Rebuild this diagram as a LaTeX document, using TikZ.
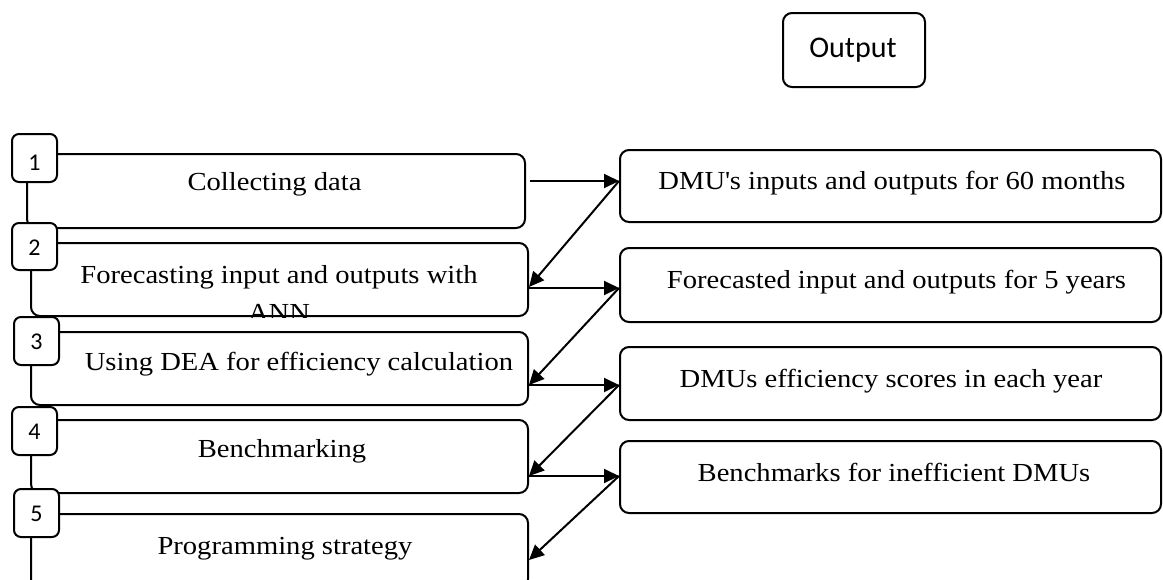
\documentclass[tikz,border=0pt]{standalone}
\usepackage{fontspec}
\usetikzlibrary{arrows.meta}
\newfontfamily\garafont{Liberation Serif}[FakeStretch=1.1]
\newfontfamily\califont{Carlito}
\begin{document}
\begin{tikzpicture}[x=1pt,y=-1pt,
  stage/.style={draw, line width=2pt, rounded corners=9pt, fill=white, inner sep=0pt},
  numbox/.style={draw, line width=2pt, rounded corners=7pt, fill=white,
    minimum width=45pt, minimum height=48pt, inner sep=0pt, text depth=0pt, text height=17pt,
    font=\califont\fontsize{24}{26}\selectfont},
  txt/.style={font=\garafont\fontsize{26}{30}\selectfont, anchor=base, inner sep=0pt},
  outtxt/.style={font=\califont\fontsize{30}{32}\selectfont, anchor=base, inner sep=0pt},
  arr/.style={line width=2pt, -{Triangle[length=15pt,width=14pt]}}]
\useasboundingbox (0,0) rectangle (1163,579);
\clip (0,0) rectangle (1163,579);

% output legend box
\node[stage, minimum width=142pt, minimum height=74pt] (out) at (854,50) {};
\node[outtxt] (outlbl) at (853,57) {Output};

% process stages (left column)
\node[stage, minimum width=498pt, minimum height=74pt] (b1) at (276,191) {};
\node[stage, minimum width=497pt, minimum height=73pt] (b2) at (279.5,279.5) {};
\node[stage, minimum width=497pt, minimum height=73pt] (b3) at (279.5,368.5) {};
\node[stage, minimum width=497pt, minimum height=73pt] (b4) at (279.5,456.5) {};
\node[stage, minimum width=497pt, minimum height=74pt] (b5) at (279.5,551) {};

\node[txt] (t1) at (274.5,190) {Collecting data};
\node[txt] (t2) at (279,283) {Forecasting input and outputs with};
\begin{scope}
  \clip[rounded corners=9pt] (b2.south west) rectangle (b2.north east);
  \node[txt] (t2b) at (279,321) {ANN};
\end{scope}
\node[txt] (t3) at (299,370) {Using DEA for efficiency calculation};
\node[txt] (t4) at (282,457) {Benchmarking};
\node[txt] (t5) at (285,554) {Programming strategy};

% step numbers
\node[numbox, text height=24pt] (n1) at (34.5,158) {1};
\node[numbox, minimum height=47pt] (n2) at (34.5,246.5) {2};
\node[numbox] (n3) at (36.5,341) {3};
\node[numbox] (n4) at (34.5,431) {4};
\node[numbox] (n5) at (36.5,513) {5};

% results (right column)
\node[stage, minimum width=541pt, minimum height=72pt] (oA) at (890.5,186) {};
\node[stage, minimum width=541pt, minimum height=74pt] (oB) at (890.5,285) {};
\node[stage, minimum width=541pt, minimum height=73pt] (oC) at (890.5,383.5) {};
\node[stage, minimum width=541pt, minimum height=72pt] (oD) at (890.5,477) {};

\node[txt] (tA) at (892,189) {DMU\textquotesingle s inputs and outputs for 60 months};
\node[txt] (tB) at (896.5,288) {Forecasted input and outputs for 5 years};
\node[txt] (tC) at (891,387) {DMUs efficiency scores in each year};
\node[txt] (tD) at (894,481) {Benchmarks for inefficient DMUs};

% flow between stages and results
\draw[arr] ([xshift=4pt,yshift=10pt]b1.east) -- ([yshift=10pt]b1.east -| oA.west);
\draw[arr] ([yshift=5pt]oA.west) -- ([yshift=-7.5pt]b2.east);
\draw[arr] ([yshift=-8.5pt]b2.east) -- ([yshift=-8.5pt]b2.east -| oB.west);
\draw[arr] ([yshift=-3pt]oB.west) -- ([yshift=-16.5pt]b3.east);
\draw[arr] ([yshift=-16.5pt]b3.east) -- ([yshift=-16.5pt]b3.east -| oC.west);
\draw[arr] ([yshift=-1.5pt]oC.west) -- ([yshift=-19.5pt]b4.east);
\draw[arr] ([yshift=-19.5pt]b4.east) -- ([yshift=-19.5pt]b4.east -| oD.west);
\draw[arr] ([yshift=1pt]oD.west) -- ([yshift=-9pt]b5.east);
\end{tikzpicture}
\end{document}
